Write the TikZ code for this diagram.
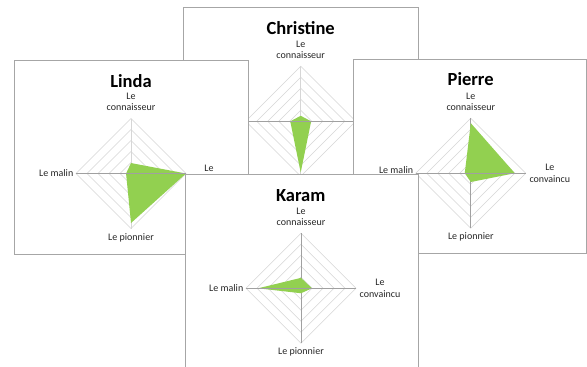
\documentclass[tikz,border=0pt]{standalone}
\usepackage{fontspec}
\setmainfont{Carlito}
\definecolor{panelgray}{HTML}{A6A6A6}
\definecolor{ringgray}{HTML}{D6D6D6}
\definecolor{axisgray}{HTML}{A0A0A0}
\definecolor{datagreen}{HTML}{92D050}
\tikzset{
  panel/.style={draw=panelgray,fill=white,line width=0.9pt},
  ring/.style={draw=ringgray,line width=0.55pt},
  axisline/.style={draw=axisgray,line width=0.7pt},
  datafill/.style={fill=datagreen},
  lbl/.style={inner sep=0pt,align=center,font=\fontsize{10}{11.5}\selectfont,text=black!85},
  ttl/.style={inner sep=0pt,anchor=base,font=\fontsize{18.5}{20}\selectfont\bfseries}
}
\newcommand\myradar[5]{%
  \foreach \k in {11,22,33,44,55}
    \draw[ring] (0,-\k) -- (\k,0) -- (0,\k) -- (-\k,0) -- cycle;
  \draw[axisline,draw=#5] (0,-55) -- (0,55);
  \fill[datafill] (0,-#1*55) -- (#2*55,0) -- (0,#3*55) -- (-#4*55,0) -- cycle;
  \draw[axisline] (-55,0) -- (55,0);
}
\begin{document}
\begin{tikzpicture}[x=1pt,y=-1pt]
\useasboundingbox (0,0) rectangle (587,367);
\clip (0,0) rectangle (587,367);
\fill[white] (0,0) rectangle (587,367);

% Christine (back)
\draw[panel] (183,7) rectangle (418,250);
\node[ttl] (c-title) at (300.7,34.3) {Christine};
\begin{scope}[shift={(300.7,121.3)}]
  \myradar{0.1}{0.19}{0.93}{0.19}{ringgray}
  \node[lbl] (c-top) at (0,-71.5) {Le\\connaisseur};
\end{scope}

% Linda
\draw[panel] (14,60) rectangle (248,254);
\node[ttl] (l-title) at (131,87.3) {Linda};
\begin{scope}[shift={(131,173.5)}]
  \myradar{0.19}{1.0}{0.9}{0.09}{ringgray}
  \node[lbl] (l-top) at (0,-71.5) {Le\\connaisseur};
  \node[lbl,anchor=east] (l-left) at (-57.5,0) {Le malin};
  \node[lbl] (l-bottom) at (0,64) {Le pionnier};
  \node[lbl] (l-right) at (78,-5.5) {Le};
\end{scope}

% Pierre
\draw[panel] (353,59) rectangle (586,253);
\node[ttl] (p-title) at (470.7,85.7) {Pierre};
\begin{scope}[shift={(470.8,173.2)}]
  \myradar{0.91}{0.8}{0.16}{0.11}{axisgray}
  \node[lbl] (p-top) at (0,-71.5) {Le\\connaisseur};
  \node[lbl,anchor=east] (p-left) at (-57.5,-3.5) {Le malin};
  \node[lbl] (p-bottom) at (0,64) {Le pionnier};
  \node[lbl,anchor=west] (p-right) at (58.5,0) {Le\\convaincu};
\end{scope}

% Karam (front)
\draw[panel] (185,174) rectangle (418,372);
\node[ttl] (k-title) at (300.7,201.7) {Karam};
\begin{scope}[shift={(301,288.3)}]
  \myradar{0.19}{0.2}{0.09}{0.78}{axisgray}
  \node[lbl] (k-top) at (0,-71.5) {Le\\connaisseur};
  \node[lbl,anchor=east] (k-left) at (-57.5,0) {Le malin};
  \node[lbl] (k-bottom) at (0,64) {Le pionnier};
  \node[lbl,anchor=west] (k-right) at (58.5,0) {Le\\convaincu};
\end{scope}
\end{tikzpicture}
\end{document}
